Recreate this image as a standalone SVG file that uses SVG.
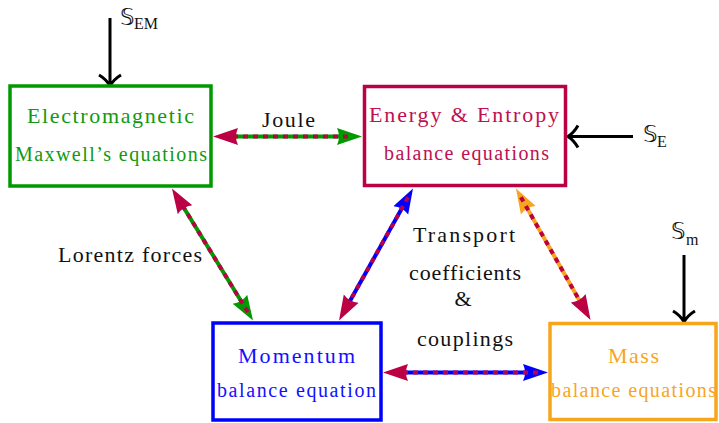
<svg xmlns="http://www.w3.org/2000/svg" width="719" height="423" viewBox="0 0 719 423">
<style>
.box{fill:#fff;stroke-width:3.5}
.t1{font-size:22px;text-anchor:middle}
.t2{font-size:20px;text-anchor:middle}
.lbl{font-size:22px;text-anchor:middle;fill:#111}
.dbl{font-size:23px;fill:#111}
.sub{font-size:16px;fill:#111}
.src{fill:none;stroke:#000;stroke-width:3}
.base{stroke-width:4;fill:none}
.dash{stroke:#BB0044;stroke-width:4;stroke-dasharray:5 5;fill:none}
</style>
<defs>
<marker id="aC" markerUnits="userSpaceOnUse" markerWidth="25" markerHeight="19" viewBox="0 0 25 19" refX="15" refY="9.5" orient="auto-start-reverse"><path d="M0,1 L25,9.5 L0,18 Q4,9.5 0,1 z" fill="#BB0044"/></marker>
<marker id="aG" markerUnits="userSpaceOnUse" markerWidth="25" markerHeight="19" viewBox="0 0 25 19" refX="15" refY="9.5" orient="auto-start-reverse"><path d="M0,1 L25,9.5 L0,18 Q4,9.5 0,1 z" fill="#009900"/></marker>
<marker id="aB" markerUnits="userSpaceOnUse" markerWidth="25" markerHeight="19" viewBox="0 0 25 19" refX="15" refY="9.5" orient="auto-start-reverse"><path d="M0,1 L25,9.5 L0,18 Q4,9.5 0,1 z" fill="#0000FF"/></marker>
<marker id="aO" markerUnits="userSpaceOnUse" markerWidth="25" markerHeight="19" viewBox="0 0 25 19" refX="15" refY="9.5" orient="auto-start-reverse"><path d="M0,1 L25,9.5 L0,18 Q4,9.5 0,1 z" fill="#F8A51E"/></marker>
</defs>
<rect width="719" height="423" fill="#fff"/>
<g id="connectors">
<line class="base" stroke="#009900" x1="223" y1="136.5" x2="352" y2="136.5" marker-start="url(#aC)" marker-end="url(#aG)"/>
<line class="dash" x1="223" y1="136.5" x2="352" y2="136.5"/>
<line class="base" stroke="#009900" x1="177.2" y1="197" x2="247.8" y2="312" marker-start="url(#aC)" marker-end="url(#aG)"/>
<line class="dash" x1="177.2" y1="197" x2="247.8" y2="312"/>
<line class="base" stroke="#0000FF" x1="408.1" y1="197.2" x2="343.9" y2="311.8" marker-start="url(#aB)" marker-end="url(#aC)"/>
<line class="dash" x1="408.1" y1="197.2" x2="343.9" y2="311.8"/>
<line class="base" stroke="#F8A51E" x1="520.9" y1="197.2" x2="585.6" y2="311.3" marker-start="url(#aO)" marker-end="url(#aC)"/>
<line class="dash" x1="520.9" y1="197.2" x2="585.6" y2="311.3"/>
<line class="base" stroke="#0000FF" x1="393" y1="372.5" x2="538" y2="372.5" marker-start="url(#aC)" marker-end="url(#aB)"/>
<line class="dash" x1="393" y1="372.5" x2="538" y2="372.5"/>
<path class="src" d="M110,18 V85 M99,75 Q106,79 110,86 Q114,79 121,75"/>
<path class="src" d="M633,136.5 H569 M578,125.5 Q574,132.5 568,136.5 Q574,140.5 578,147.5"/>
<path class="src" d="M684,255 V320 M673,311 Q680,315 684,322 Q688,315 695,311"/>
</g>
<g id="labels" font-family="Liberation Serif, serif">
<text class="lbl" x="288.5" y="127" textLength="53">Joule</text>
<text class="lbl" x="130" y="262" textLength="144">Lorentz forces</text>
<text class="lbl" x="464" y="242" textLength="102">Transport</text>
<text class="lbl" x="465" y="280" textLength="112">coefficients</text>
<text class="lbl" x="463" y="306">&amp;</text>
<text class="lbl" x="465" y="346" textLength="96">couplings</text>
<text class="dbl" font-family="DejaVu Sans, sans-serif" x="120" y="25">𝕊</text><text class="sub" x="134" y="29">EM</text>
<text class="dbl" font-family="DejaVu Sans, sans-serif" x="643" y="142">𝕊</text><text class="sub" x="657" y="147">E</text>
<text class="dbl" font-family="DejaVu Sans, sans-serif" x="671" y="239">𝕊</text><text class="sub" x="686" y="245">m</text>
</g>
<g id="electromagnetic" font-family="Liberation Serif, serif">
<rect class="box" stroke="#009900" x="10" y="86" width="201" height="100"/>
<text class="t1" fill="#119911" x="110.5" y="123" textLength="167">Electromagnetic</text>
<text class="t2" fill="#119911" x="111" y="161" textLength="192">Maxwell’s equations</text>
</g>
<g id="energy" font-family="Liberation Serif, serif">
<rect class="box" stroke="#BB0044" x="364.5" y="86.5" width="201" height="99"/>
<text class="t1" fill="#C01050" x="464" y="122" textLength="190">Energy &amp; Entropy</text>
<text class="t2" fill="#C01050" x="466.5" y="160" textLength="165">balance equations</text>
</g>
<g id="momentum" font-family="Liberation Serif, serif">
<rect class="box" stroke="#0000FF" x="213" y="323" width="168" height="97"/>
<text class="t1" fill="#1111FF" x="296.5" y="363" textLength="117">Momentum</text>
<text class="t2" fill="#1111FF" x="296.5" y="397" textLength="159">balance equation</text>
</g>
<g id="mass" font-family="Liberation Serif, serif">
<rect class="box" stroke="#F8A51E" x="550" y="323.5" width="166" height="96"/>
<text class="t1" fill="#F8A51E" x="633.5" y="363" textLength="51">Mass</text>
<text class="t2" fill="#F8A51E" x="633.5" y="397" textLength="165">balance equations</text>
</g>
</svg>
